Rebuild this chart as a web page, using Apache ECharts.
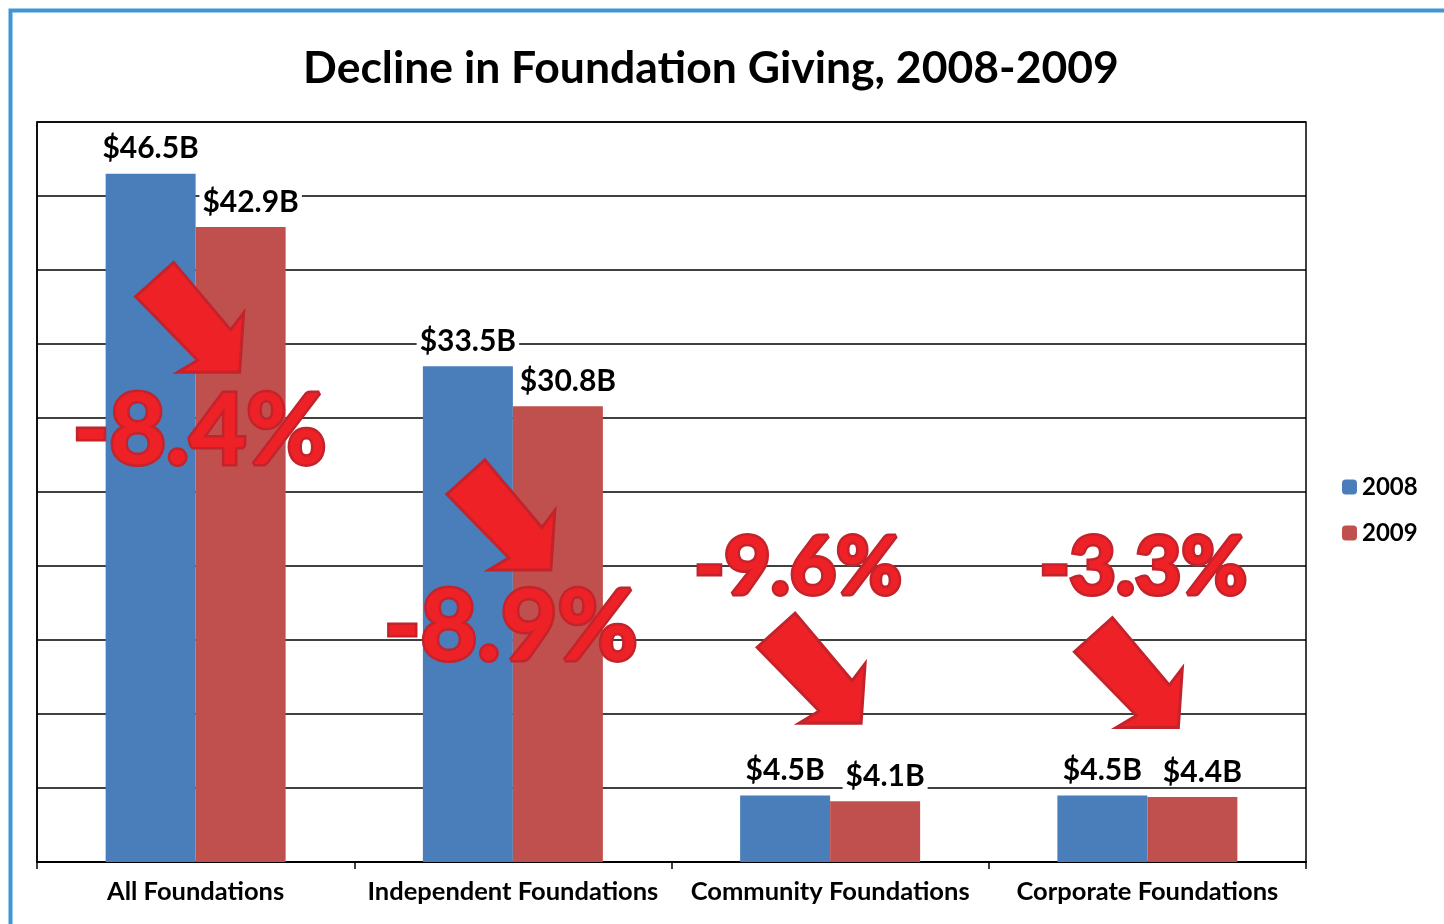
<!DOCTYPE html>
<html>
<head>
<meta charset="utf-8">
<script src="https://cdn.jsdelivr.net/npm/echarts@6/dist/echarts.min.js"></script>
<style>
html,body{margin:0;padding:0;background:#fff;}
#chart{width:1444px;height:924px;}
</style>
</head>
<body>
<div id="chart"></div>
<script>
const categories = ['All Foundations', 'Independent Foundations', 'Community Foundations', 'Corporate Foundations'];
const seriesNames = ['2008', '2009'];
const giving2008 = [46.5, 33.5, 4.5, 4.5];
const giving2009 = [42.9, 30.8, 4.1, 4.4];
const declineLabels = ['-8.4%', '-8.9%', '-9.6%', '-3.3%'];

const FONT = 'Lato';
const arrowPath = 'path://M0,34 L38,0 L95,67 L108,50 L104,109 L42,109 L62,97 Z';
const arrowStyle = { color: '#EE2127', borderColor: '#C4232B', borderWidth: 3 };

function arrow(ci, v, dx) {
  return { coord: [ci, v], symbol: arrowPath, symbolSize: [108, 110], symbolOffset: [dx, 0],
           itemStyle: arrowStyle, label: { show: false } };
}
function pct(ci, v, dx, size) {
  return { coord: [ci, v], symbol: 'rect', symbolSize: 2,
           itemStyle: { color: 'rgba(0,0,0,0)', borderWidth: 0 },
           label: { show: true, position: 'inside', offset: [dx, 0], formatter: declineLabels[ci],
                    fontFamily: FONT, fontWeight: 'bold', fontSize: size, color: '#EE2127',
                    textBorderColor: '#C4232B', textBorderWidth: 5 } };
}

const labelCommon = {
  show: true, position: 'top', distance: 10,
  formatter: p => '$' + p.value.toFixed(1) + 'B',
  fontFamily: FONT, fontWeight: 'bold', fontSize: 30, color: '#000',
  backgroundColor: '#fff', padding: [0, 3, 0, 3]
};

const chart = echarts.init(document.getElementById('chart'), null, { renderer: 'canvas' });
chart.setOption({
  animation: false,
  backgroundColor: '#fff',
  title: {
    text: 'Decline in Foundation Giving, 2008-2009',
    left: 706, top: 41, textAlign: 'center',
    textStyle: { fontFamily: FONT, fontWeight: 'bold', fontSize: 44.5, color: '#000' }
  },
  graphic: [{
    type: 'rect', left: 8, top: 8, z: 100, silent: true,
    shape: { width: 1500, height: 1000 },
    style: { fill: 'none', stroke: '#3D97D3', lineWidth: 4 }
  }],
  legend: {
    data: seriesNames, orient: 'vertical', left: 1337, top: 470,
    itemWidth: 15, itemHeight: 15, itemGap: 22,
    textStyle: { fontFamily: FONT, fontWeight: 'bold', fontSize: 24, color: '#000' }
  },
  grid: { left: 37, top: 122, right: 138, bottom: 62, show: true, borderColor: '#000', borderWidth: 1.5, containLabel: false },
  xAxis: {
    type: 'category', data: categories, boundaryGap: true,
    axisLine: { lineStyle: { color: '#000', width: 2 } },
    axisTick: { show: true, length: 7, lineStyle: { color: '#000', width: 1.5 } },
    axisLabel: { fontFamily: FONT, fontWeight: 'bold', fontSize: 25.5, color: '#000', margin: 17, interval: 0 }
  },
  yAxis: {
    type: 'value', min: 0, max: 50, interval: 5,
    axisLabel: { show: false }, axisTick: { show: false },
    axisLine: { show: true, lineStyle: { color: '#000', width: 1.5 } },
    splitLine: { lineStyle: { color: '#000', width: 1.5 } }
  },
  series: [
    { name: seriesNames[0], type: 'bar', data: giving2008, barWidth: 90, barGap: '0%',
      itemStyle: { color: '#4A7EBB' }, label: Object.assign({}, labelCommon) },
    { name: seriesNames[1], type: 'bar', data: giving2009, barWidth: 90, barGap: '0%',
      itemStyle: { color: '#C0504D' }, label: Object.assign({}, labelCommon, { offset: [10, 0] }) },
    { name: 'annotations', type: 'scatter', data: [], silent: true,
      markPoint: {
        silent: true,
        data: [
          arrow(0, 36.8, -6), arrow(1, 23.45, -12), arrow(2, 13.1, -19), arrow(3, 12.8, -19),
          pct(0, 29.05, 4, 98), pct(1, 15.8, -2, 98), pct(2, 19.86, -32, 80), pct(3, 19.86, -4, 80)
        ]
      }
    }
  ]
});
</script>
</body>
</html>
